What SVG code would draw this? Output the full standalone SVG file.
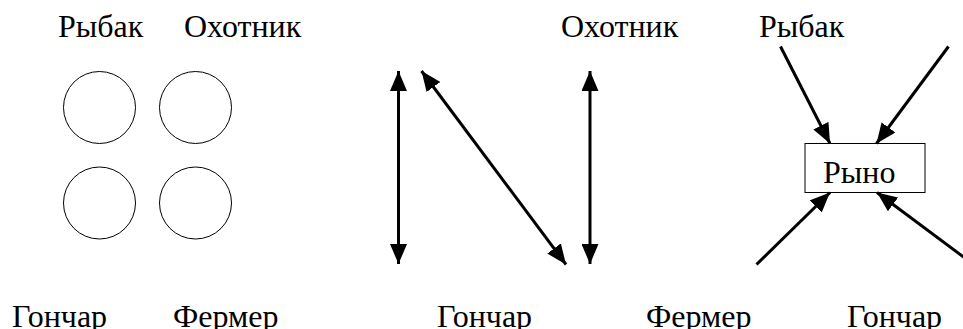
<svg xmlns="http://www.w3.org/2000/svg" width="963" height="329" viewBox="0 0 963 329">
<style>
  .lbl { font-family: "Liberation Serif", "Times New Roman", serif; font-size: 32px; fill: #000; }
  .node { fill: none; stroke: #000; stroke-width: 1; }
  .box { fill: #fff; stroke: #000; stroke-width: 1; }
  .conn { stroke: #000; stroke-width: 3; fill: none; }
</style>
<defs>
  <marker id="ah" viewBox="0 0 20 17" refX="20" refY="8.5" markerWidth="20" markerHeight="17" markerUnits="userSpaceOnUse" orient="auto-start-reverse">
    <path d="M0,0 L20,8.5 L0,17 Z" fill="#000"/>
  </marker>
  <clipPath id="clipRyno"><rect x="805" y="143" width="120" height="40"/></clipPath>
</defs>

<g id="labels">
  <text class="lbl" x="58" y="37">Рыбак</text>
  <text class="lbl" x="184" y="37">Охотник</text>
  <text class="lbl" x="12" y="327">Гончар</text>
  <text class="lbl" x="173" y="327">Фермер</text>
  <text class="lbl" x="437" y="327">Гончар</text>
  <text class="lbl" x="561" y="37">Охотник</text>
  <text class="lbl" x="646" y="327">Фермер</text>
  <text class="lbl" x="759" y="37">Рыбак</text>
  <text class="lbl" x="847" y="327">Гончар</text>
</g>

<g id="circle-tl"><circle class="node" cx="99.5" cy="107.5" r="36"/></g>
<g id="circle-tr"><circle class="node" cx="195.5" cy="107.5" r="36"/></g>
<g id="circle-bl"><circle class="node" cx="99.5" cy="203" r="36"/></g>
<g id="circle-br"><circle class="node" cx="195.5" cy="203" r="36"/></g>

<g id="market">
  <rect class="box" x="805" y="143.5" width="120" height="49"/>
  <text class="lbl" x="823" y="182.5" clip-path="url(#clipRyno)">Рыно</text>
</g>

<g id="connectors">
  <line class="conn" x1="398.5" y1="71" x2="398.5" y2="264" marker-start="url(#ah)" marker-end="url(#ah)"/>
  <line class="conn" x1="421.5" y1="71" x2="566" y2="264.5" marker-start="url(#ah)" marker-end="url(#ah)"/>
  <line class="conn" x1="590" y1="71" x2="590" y2="264" marker-start="url(#ah)" marker-end="url(#ah)"/>
  <line class="conn" x1="780.5" y1="46.5" x2="830" y2="143.5" marker-end="url(#ah)"/>
  <line class="conn" x1="948.5" y1="46.5" x2="876.5" y2="143.5" marker-end="url(#ah)"/>
  <line class="conn" x1="756.5" y1="264.5" x2="830" y2="192.5" marker-end="url(#ah)"/>
  <line class="conn" x1="975" y1="265.5" x2="877" y2="192.5" marker-end="url(#ah)"/>
</g>
</svg>
